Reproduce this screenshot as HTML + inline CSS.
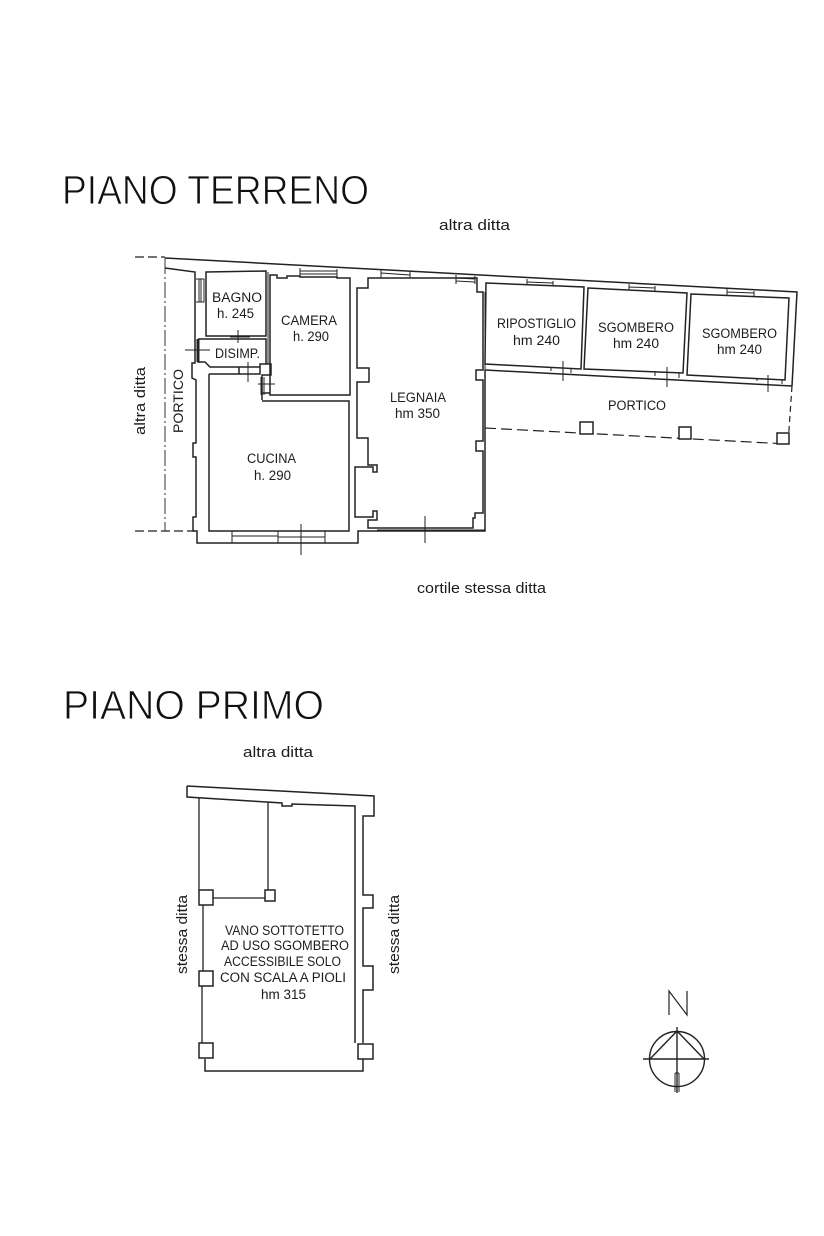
<!DOCTYPE html>
<html lang="it"><head><meta charset="utf-8"><title>Pianta</title>
<style>
html,body{margin:0;padding:0;background:#fff;width:824px;height:1236px;overflow:hidden}
svg{display:block;filter:blur(.35px)}
text{font-family:"Liberation Sans",sans-serif;fill:#1c1c1c;stroke:none}
text.h{font-size:40.5px;fill:#111;stroke:#fff;stroke-width:.9px}
.s{font-size:14.5px}
.r{font-size:13.5px}
.w{fill:none;stroke:#222;stroke-width:1.5;stroke-linejoin:miter}
.t{fill:none;stroke:#222;stroke-width:1}
.d{fill:none;stroke:#222;stroke-width:1.2;stroke-dasharray:9 4}
.dd{fill:none;stroke:#333;stroke-width:1;stroke-dasharray:16 3 2 3}
.p{fill:#fff;stroke:#222;stroke-width:1.5}
</style></head><body>
<svg width="824" height="1236" viewBox="0 0 824 1236" xmlns="http://www.w3.org/2000/svg">
<rect width="824" height="1236" fill="#fff"/>

<text class="h" x="62" y="204" textLength="307" lengthAdjust="spacingAndGlyphs">PIANO TERRENO</text>
<text class="h" x="63" y="719" textLength="261" lengthAdjust="spacingAndGlyphs">PIANO PRIMO</text>

<!-- ground floor: outer walls -->
<path class="w" d="M165 258L797 292L792 386"/>
<path class="w" d="M165 268L195 272V363H192V378L196 380V443H193V457H196V517H193V531H197V543H358V531H485V370"/>
<path class="d" d="M135 257H165M135 531H195"/>
<path class="dd" d="M165 258V531"/>
<path class="t" d="M196 279H204V302H196M199 279V302M201 279V302"/>

<!-- Bagno -->
<path class="w" d="M206 272L266 271V336H206Z"/>
<!-- Disimpegno -->
<path class="w" d="M198 339H266V364M198 339V362H205L210 367H239V374H209M239 367H260M239 374H260V364H271V375H262V393M262 400V393H270"/>
<path class="t" d="M197 339V362M199 339V362M238 330V343M230 337H250M185 350H210M248 362V382"/>
<!-- Camera -->
<path class="w" d="M270 275H277V278H287V276H300V277H337V278L350 278V395H270Z"/>
<path class="t" d="M268 272V364M300 268V277M337 269V277M300 271H337M300 274H337"/>
<!-- Cucina -->
<path class="w" d="M209 374V531H349V401H262"/>
<path class="t" d="M232 531V543M278 531V543M232 536H278M325 531V543M278 537H325M301 524V555M264 377V395M261 377V395M258 384H275"/>

<!-- Legnaia -->
<path class="w" d="M357 288H368V278H477V292H483V370H476V380H483V441H476V451H483V513H475V518H473V528H368V520H377V511H373V517H355V467H373V472H377V465H368V438H357V382H369V368H357Z"/>
<path class="t" d="M377 530H485M485 292V370M425 516V543"/>
<path class="t" d="M381 270V278M410 271V278M381 273L410 275M456 275V284M475 276V284M456 278L475 279M456 281L475 282"/>

<!-- right rooms -->
<path class="w" d="M486 283L584 287L581 369L485 364Z"/>
<path class="w" d="M588 288L687 293L683 373L584 369Z"/>
<path class="w" d="M691 294L789 298L785 380L687 375Z"/>
<path class="t" d="M527 279V285M553 281V286M527 282L553 283M629 284V290M655 286V292M629 287L655 288M727 289V295M754 291V297M727 292L754 293"/>
<path class="w" d="M485 370L792 386"/>
<path class="t" d="M551 367V371M571 368V373M655 371V376M679 373V378M757 378V381M782 380V384"/>
<path class="t" d="M563 361V381M667 367V387M768 375V392"/>

<!-- portico -->
<path class="d" d="M485 428L788 444" style="stroke-dasharray:11 5"/>
<path class="d" d="M792 386L788 444" style="stroke-dasharray:6 4"/>
<rect class="p" x="580" y="422" width="13" height="12"/>
<rect class="p" x="679" y="427" width="12" height="12"/>
<rect class="p" x="777" y="433" width="12" height="11"/>

<!-- first floor -->
<path class="w" d="M187 786L374 796V816H363V895H373V908H363V966H373V990H363V1043"/>
<path class="w" d="M187 786V797L282 803V806H292V804L355 806V1043"/>
<path class="w" d="M363 1059V1071H205V1059"/>
<path class="w" d="M199 798V890M203 905V971M202 986V1043M213 898H265M268 802V890" style="stroke-width:1.3"/>
<rect class="p" x="199" y="890" width="14" height="15"/>
<rect class="p" x="199" y="971" width="14" height="15"/>
<rect class="p" x="199" y="1043" width="14" height="15"/>
<rect class="p" x="358" y="1044" width="15" height="15"/>
<rect class="p" x="265" y="890" width="10" height="11"/>

<!-- north -->
<path class="t" d="M669 1015V991L687 1015V991" style="stroke-width:1.2"/>
<circle class="t" cx="677" cy="1059" r="27.5" style="stroke-width:1.4"/>
<path class="t" d="M677 1031L650 1059M677 1031L704 1059M643 1059H709M677 1027V1093" style="stroke-width:1.4"/>
<path class="t" d="M675 1073V1092M677 1073V1092M679 1073V1092M675 1073H679"/>

<!-- labels -->
<text class="s" x="439" y="230" textLength="71" lengthAdjust="spacingAndGlyphs">altra ditta</text>
<text class="s" x="417" y="593" textLength="129" lengthAdjust="spacingAndGlyphs">cortile stessa ditta</text>
<text class="s" x="243" y="757" textLength="70" lengthAdjust="spacingAndGlyphs">altra ditta</text>
<text class="s" transform="translate(145 435) rotate(-90)" textLength="68" lengthAdjust="spacingAndGlyphs">altra ditta</text>
<text class="r" transform="translate(183 433) rotate(-90)" textLength="64" lengthAdjust="spacingAndGlyphs">PORTICO</text>
<text class="s" transform="translate(187 974) rotate(-90)" textLength="79" lengthAdjust="spacingAndGlyphs">stessa ditta</text>
<text class="s" transform="translate(399 974) rotate(-90)" textLength="79" lengthAdjust="spacingAndGlyphs">stessa ditta</text>

<text class="r" x="212" y="302" textLength="50" lengthAdjust="spacingAndGlyphs">BAGNO</text>
<text class="r" x="217" y="318" textLength="37" lengthAdjust="spacingAndGlyphs">h. 245</text>
<text class="r" x="281" y="325" textLength="56" lengthAdjust="spacingAndGlyphs">CAMERA</text>
<text class="r" x="293" y="341" textLength="36" lengthAdjust="spacingAndGlyphs">h. 290</text>
<text class="r" x="215" y="358" textLength="45" lengthAdjust="spacingAndGlyphs">DISIMP.</text>
<text class="r" x="247" y="463" textLength="49" lengthAdjust="spacingAndGlyphs">CUCINA</text>
<text class="r" x="254" y="480" textLength="37" lengthAdjust="spacingAndGlyphs">h. 290</text>
<text class="r" x="390" y="402" textLength="56" lengthAdjust="spacingAndGlyphs">LEGNAIA</text>
<text class="r" x="395" y="418" textLength="45" lengthAdjust="spacingAndGlyphs">hm 350</text>
<text class="r" x="497" y="328" textLength="79" lengthAdjust="spacingAndGlyphs">RIPOSTIGLIO</text>
<text class="r" x="513" y="345" textLength="47" lengthAdjust="spacingAndGlyphs">hm 240</text>
<text class="r" x="598" y="332" textLength="76" lengthAdjust="spacingAndGlyphs">SGOMBERO</text>
<text class="r" x="613" y="348" textLength="46" lengthAdjust="spacingAndGlyphs">hm 240</text>
<text class="r" x="702" y="338" textLength="75" lengthAdjust="spacingAndGlyphs">SGOMBERO</text>
<text class="r" x="717" y="354" textLength="45" lengthAdjust="spacingAndGlyphs">hm 240</text>
<text class="r" x="608" y="410" textLength="58" lengthAdjust="spacingAndGlyphs">PORTICO</text>

<text class="r" x="225" y="935" textLength="119" lengthAdjust="spacingAndGlyphs">VANO SOTTOTETTO</text>
<text class="r" x="221" y="950" textLength="128" lengthAdjust="spacingAndGlyphs">AD USO SGOMBERO</text>
<text class="r" x="224" y="966" textLength="117" lengthAdjust="spacingAndGlyphs">ACCESSIBILE SOLO</text>
<text class="r" x="220" y="982" textLength="126" lengthAdjust="spacingAndGlyphs">CON SCALA A PIOLI</text>
<text class="r" x="261" y="999" textLength="45" lengthAdjust="spacingAndGlyphs">hm 315</text>
</svg>
</body></html>
